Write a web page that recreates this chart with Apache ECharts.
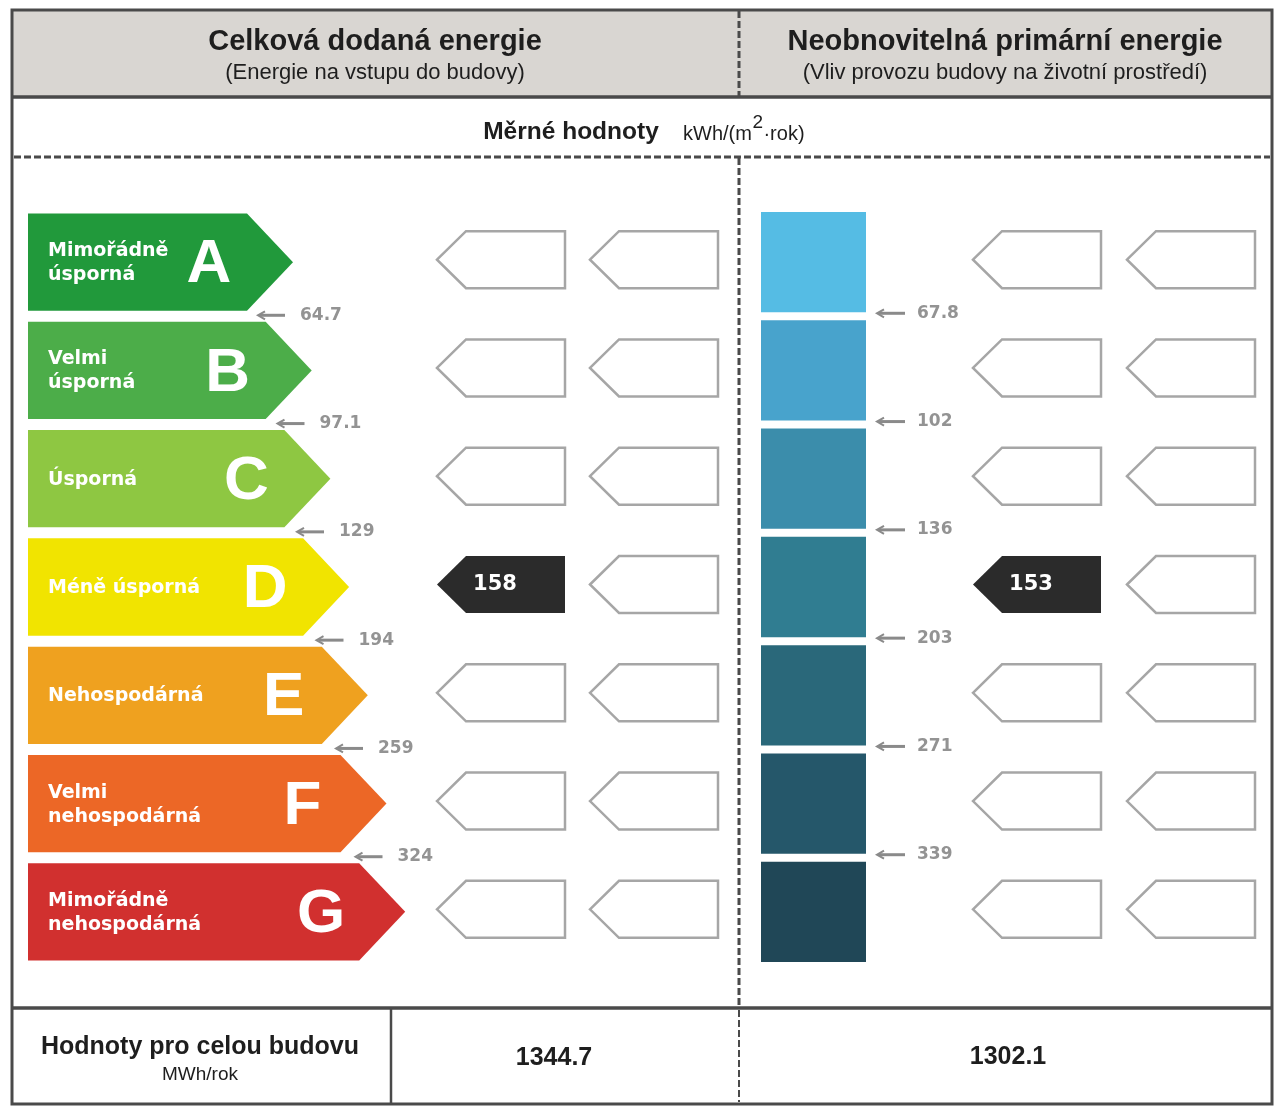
<!DOCTYPE html>
<html>
<head>
<meta charset="utf-8">
<script src="https://cdn.jsdelivr.net/npm/echarts@6/dist/echarts.min.js"></script>
<style>
  html, body { margin: 0; padding: 0; background: #fff; }
  #chart { width: 1281px; height: 1111px; }
</style>
</head>
<body>
<div id="chart"></div>
<script>
// třídy energetické náročnosti
const classLetters = ['A', 'B', 'C', 'D', 'E', 'F', 'G']
const classNames = [
  'Mimořádně\núsporná',
  'Velmi\núsporná',
  'Úsporná',
  'Méně úsporná',
  'Nehospodárná',
  'Velmi\nnehospodárná',
  'Mimořádně\nnehospodárná'
]
// hranice tříd – celková dodaná energie
const deliveredLimits = [64.7, 97.1, 129, 194, 259, 324]
// hranice tříd – neobnovitelná primární energie
const primaryLimits = [67.8, 102, 136, 203, 271, 339]
// měrné hodnoty budovy kWh/(m2·rok): [dodaná, primární]
const specificValues = [158, 153]
// hodnoty pro celou budovu MWh/rok: [dodaná, primární]
const buildingTotals = [1344.7, 1302.1]

// barvy
const classColors = ['#21993b', '#4cad49', '#8ec742', '#f1e400', '#efa11f', '#ec6726', '#d1302f']
const blueColors = ['#55bce4', '#48a3cc', '#3b8dab', '#307d91', '#2a687a', '#25576a', '#204757']
const FONT_LABEL = '"DejaVu Sans", Verdana, sans-serif'
const FONT_HEAD = '"Liberation Sans", Arial, sans-serif'
const FRAME = '#4a4a4a'
const INK = '#1e1e1e'

const chart = echarts.init(document.getElementById('chart'))

// do které třídy hodnota patří
function classOf(v, limits) {
  const k = limits.findIndex(t => v <= t)
  return k < 0 ? limits.length : k
}

// šířka textu pro skládání jednotky s horním indexem
const measureCtx = document.createElement('canvas').getContext('2d')
function textWidth(text, font) {
  measureCtx.font = font
  return measureCtx.measureText(text).width
}

function txt(text, x, y, font, fill, align) {
  return {
    type: 'text',
    style: {
      text, x, y, font, fill,
      align: align || 'center', textAlign: align || 'center',
      verticalAlign: 'middle', textVerticalAlign: 'middle'
    }
  }
}

function line(x1, y1, x2, y2, w, dash) {
  return {
    type: 'line',
    shape: { x1, y1, x2, y2 },
    style: { stroke: FRAME, lineWidth: w, lineDash: dash || null }
  }
}

// tvar štítku se šipkou vlevo
function tagPoints(tipX, cy, w, h) {
  const d = 29
  return [[tipX, cy], [tipX + d, cy - h / 2], [tipX + w, cy - h / 2], [tipX + w, cy + h / 2], [tipX + d, cy + h / 2]]
}

// šipka s popiskem hranice
function limitMark(headX, tailX, textX, y, label) {
  const c = '#8a8a8a'
  return [
    { type: 'line', shape: { x1: headX + 2, y1: y, x2: tailX, y2: y }, style: { stroke: c, lineWidth: 3 } },
    { type: 'polyline', shape: { points: [[headX + 7, y - 4], [headX, y], [headX + 7, y + 4]] }, style: { stroke: c, lineWidth: 2, fill: null } },
    { type: 'text', style: { text: label, x: textX, y: y, font: 'bold 17px ' + FONT_LABEL, fill: '#939393', align: 'left', textAlign: 'left', verticalAlign: 'middle', textVerticalAlign: 'middle' } }
  ]
}

// štítky (prázdné + vyznačená hodnota)
function tagSeries(gridIdx, cols, value, limits) {
  const mark = classOf(value, limits)
  const data = []
  classLetters.forEach((c, i) => cols.forEach((x, k) => data.push([x, i, k === 0 && i === mark ? value : 0])))
  return {
    type: 'custom',
    xAxisIndex: gridIdx,
    yAxisIndex: gridIdx,
    data,
    renderItem(params, api) {
      const p = api.coord([api.value(0), api.value(1)])
      const right = api.coord([api.value(0) + 128, api.value(1)])[0]
      const v = api.value(2)
      const cy = p[1] - 2.5
      const pts = tagPoints(p[0], cy, right - p[0], 57)
      if (v) {
        return {
          type: 'group',
          children: [
            { type: 'polygon', shape: { points: pts }, style: { fill: '#2b2b2b' } },
            { type: 'text', style: { text: String(v), x: p[0] + 58, y: cy, font: 'bold 21px ' + FONT_LABEL, fill: '#fff', align: 'center', textAlign: 'center', verticalAlign: 'middle', textVerticalAlign: 'middle' } }
          ]
        }
      }
      return { type: 'polygon', shape: { points: pts }, style: { fill: '#fff', stroke: '#a6a6a6', lineWidth: 2.5 } }
    }
  }
}

// jednotka kWh/(m2·rok)
const unitFont = '20px ' + FONT_HEAD
const supFont = '19px ' + FONT_HEAD
const unitX = 683
const unitW1 = textWidth('kWh/(m', unitFont)
const unitW2 = textWidth('2', supFont)

const option = {
  animation: false,
  backgroundColor: '#fff',
  grid: [
    { left: 28, top: 208, width: 690, height: 758 },
    { left: 761, top: 208, width: 493, height: 758 }
  ],
  xAxis: [
    { gridIndex: 0, type: 'value', min: 0, max: 690, show: false },
    { gridIndex: 1, type: 'value', min: 0, max: 493, show: false }
  ],
  yAxis: [
    { gridIndex: 0, type: 'category', data: classLetters, inverse: true, show: false },
    { gridIndex: 1, type: 'category', data: classLetters, inverse: true, show: false }
  ],
  graphic: [
    // záhlaví
    { type: 'rect', shape: { x: 12, y: 10, width: 1260, height: 87 }, style: { fill: '#d9d6d2' } },
    { type: 'rect', shape: { x: 12, y: 10, width: 1260, height: 1094 }, style: { fill: null, stroke: FRAME, lineWidth: 3 } },
    line(12, 97, 1272, 97, 3.5),
    line(14, 157, 1270, 157, 3, [7, 3]),
    line(739, 11, 739, 96, 3, [7, 3]),
    line(739, 158, 739, 1007, 3, [7, 3]),
    line(739, 1010, 739, 1102, 2, [7, 3]),
    line(12, 1008, 1272, 1008, 3.5),
    line(391, 1008, 391, 1104, 2.5),
    txt('Celková dodaná energie', 375, 42, 'bold 29px ' + FONT_HEAD, INK),
    txt('(Energie na vstupu do budovy)', 375, 73, '22px ' + FONT_HEAD, INK),
    txt('Neobnovitelná primární energie', 1005, 42, 'bold 29px ' + FONT_HEAD, INK),
    txt('(Vliv provozu budovy na životní prostředí)', 1005, 73, '22px ' + FONT_HEAD, INK),
    txt('Měrné hodnoty', 571, 132, 'bold 24.5px ' + FONT_HEAD, INK),
    txt('kWh/(m', unitX, 134, unitFont, INK, 'left'),
    txt('2', unitX + unitW1 + 0.5, 123, supFont, INK, 'left'),
    txt('·rok)', unitX + unitW1 + unitW2 + 1, 134, unitFont, INK, 'left'),
    // spodní tabulka
    txt('Hodnoty pro celou budovu', 200, 1047, 'bold 25px ' + FONT_HEAD, INK),
    txt('MWh/rok', 200, 1075, '19px ' + FONT_HEAD, INK),
    txt(buildingTotals[0].toFixed(1), 554, 1058, 'bold 25px ' + FONT_HEAD, INK),
    txt(buildingTotals[1].toFixed(1), 1008, 1057, 'bold 25px ' + FONT_HEAD, INK)
  ],
  series: [
    // barevné šipky tříd
    {
      type: 'custom',
      xAxisIndex: 0,
      yAxisIndex: 0,
      data: classLetters.map((c, i) => [0, i]),
      renderItem(params, api) {
        const i = api.value(1)
        const band = api.size([0, 1])[1]
        const h = band - 11
        const start = api.coord([0, i])
        const endX = api.coord([219 + 18.7 * i, i])[0]
        const tipX = endX + 46
        const cy = start[1]
        return {
          type: 'group',
          children: [
            {
              type: 'polygon',
              shape: { points: [[start[0], cy - h / 2], [endX, cy - h / 2], [tipX, cy], [endX, cy + h / 2], [start[0], cy + h / 2]] },
              style: { fill: classColors[i] }
            },
            {
              type: 'text',
              style: { text: classNames[i], x: start[0] + 20, y: cy + 1, font: 'bold 19px ' + FONT_LABEL, lineHeight: 24, fill: '#fff', align: 'left', textAlign: 'left', verticalAlign: 'middle', textVerticalAlign: 'middle' }
            },
            {
              type: 'text',
              style: { text: classLetters[i], x: endX - 38, y: cy + 3, font: 'bold 62px ' + FONT_HEAD, fill: '#fff', align: 'center', textAlign: 'center', verticalAlign: 'middle', textVerticalAlign: 'middle' }
            }
          ]
        }
      }
    },
    // hranice tříd – dodaná energie
    {
      type: 'custom',
      xAxisIndex: 0,
      yAxisIndex: 0,
      data: deliveredLimits.map((v, i) => [v, i]),
      renderItem(params, api) {
        const i = api.value(1)
        const band = api.size([0, 1])[1]
        const y = api.coord([0, i])[1] + band / 2 - 1
        const textX = api.coord([272 + 19.5 * i, i])[0]
        return { type: 'group', children: limitMark(textX - 42, textX - 15, textX, y, String(api.value(0))) }
      }
    },
    // modré čtverce – primární energie
    {
      type: 'custom',
      xAxisIndex: 1,
      yAxisIndex: 1,
      data: classLetters.map((c, i) => [0, i]),
      renderItem(params, api) {
        const i = api.value(1)
        const band = api.size([0, 1])[1]
        const p = api.coord([0, i])
        const w = api.size([105, 0])[0]
        const h = band - 8
        return { type: 'rect', shape: { x: p[0], y: p[1] - h / 2, width: w, height: h }, style: { fill: blueColors[i] } }
      }
    },
    // hranice tříd – primární energie
    {
      type: 'custom',
      xAxisIndex: 1,
      yAxisIndex: 1,
      data: primaryLimits.map((v, i) => [v, i]),
      renderItem(params, api) {
        const i = api.value(1)
        const band = api.size([0, 1])[1]
        const y = api.coord([0, i])[1] + band / 2 - 3
        const textX = api.coord([156, i])[0]
        return { type: 'group', children: limitMark(textX - 40, textX - 12, textX, y, String(api.value(0))) }
      }
    },
    tagSeries(0, [409, 562], specificValues[0], deliveredLimits),
    tagSeries(1, [212, 366], specificValues[1], primaryLimits)
  ]
}

chart.setOption(option)
</script>
</body>
</html>
